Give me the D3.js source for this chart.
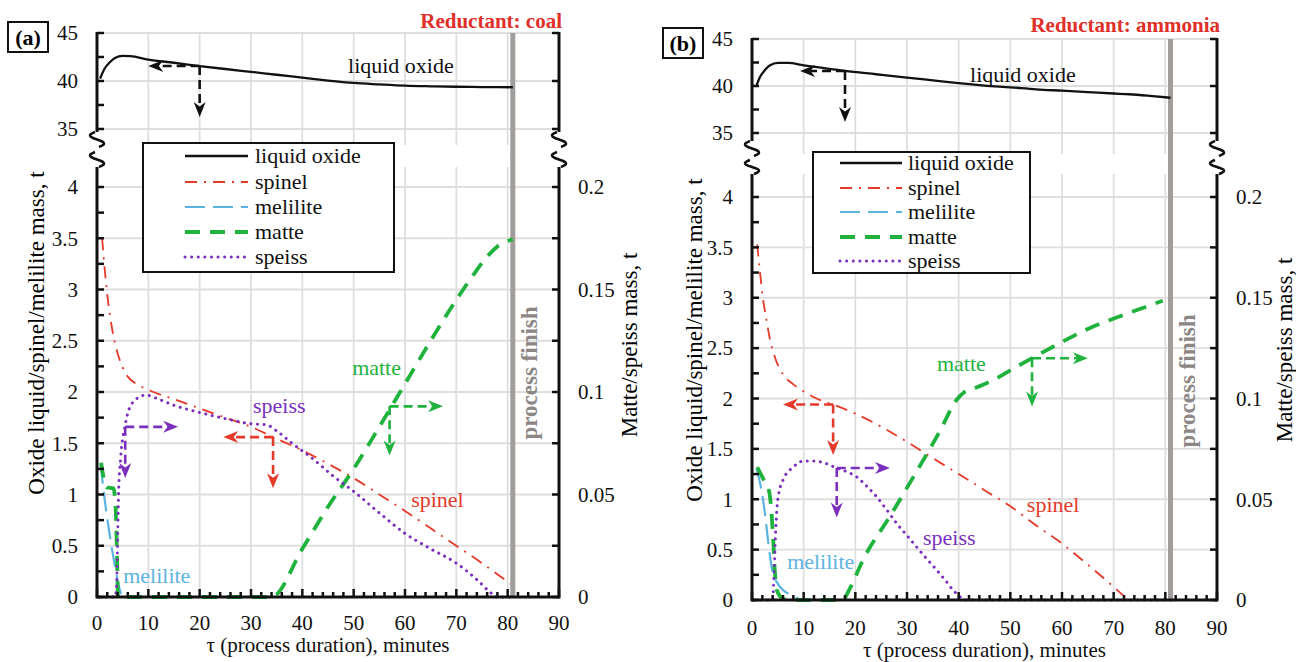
<!DOCTYPE html>
<html>
<head>
<meta charset="utf-8">
<script src="https://cdn.jsdelivr.net/npm/d3@7"></script>
<style>
  body { margin: 0; background: #fff; }
  svg { display: block; }
</style>
</head>
<body>
<svg id="chart" width="1296" height="662"></svg>
<script>
// ---- axis ticks ----
const tauTicks = [0, 10, 20, 30, 40, 50, 60, 70, 80, 90]
const topTicks = [35, 40, 45]
const leftTicks = [0, 0.5, 1, 1.5, 2, 2.5, 3, 3.5, 4]
const rightTicks = [0, 0.05, 0.1, 0.15, 0.2]
const finishTau = 81

const seriesNames = ["liquid oxide", "spinel", "melilite", "matte", "speiss"]

// ---- (a) reductant: coal ----
const oxideTauA = [0.6, 1.5, 2.5, 3.5, 5, 6.5, 10, 15, 20, 25, 30, 35, 40, 45, 50, 55, 60, 65, 70, 75, 81]
const oxideA = [40.25, 41.3, 41.95, 42.4, 42.62, 42.6, 42.22, 41.9, 41.56, 41.25, 40.95, 40.65, 40.35, 40.05, 39.8, 39.65, 39.52, 39.45, 39.4, 39.37, 39.35]
const spinelTauA = [1, 1.5, 2, 3, 4, 5, 6, 8, 10, 15, 20, 25, 30, 34.3, 40, 45, 50, 55, 60, 65, 70, 75, 80.5]
const spinelA = [3.5, 3.2, 2.95, 2.6, 2.38, 2.24, 2.15, 2.07, 2.02, 1.93, 1.84, 1.75, 1.66, 1.56, 1.43, 1.3, 1.16, 1.0, 0.84, 0.67, 0.5, 0.33, 0.13]
const meliliteTauA = [0.7, 1.5, 2.5, 3.5, 4.3, 5, 81]
const meliliteA = [1.3, 0.95, 0.6, 0.3, 0.1, 0, 0]
const matteTauA = [0.8, 1.9, 3.2, 3.6, 3.9, 4.1, 34, 40, 45, 50, 55, 60, 65, 70, 73, 76, 78, 81]
const matteA = [0.0655, 0.0535, 0.053, 0.045, 0.02, 0, 0, 0.0235, 0.044, 0.0625, 0.083, 0.104, 0.125, 0.145, 0.156, 0.166, 0.171, 0.1745]
const speissTauA = [0.5, 3.5, 3.8, 4.0, 4.2, 4.6, 5.5, 7, 9.5, 12, 15, 20, 25, 30, 33, 35, 38, 42, 46, 50, 55, 60, 65, 70, 74, 77, 78, 81]
const speissA = [0, 0, 0.005, 0.025, 0.05, 0.0675, 0.084, 0.095, 0.0985, 0.0965, 0.0935, 0.09, 0.087, 0.0845, 0.084, 0.081, 0.075, 0.0675, 0.059, 0.0515, 0.041, 0.031, 0.0235, 0.0165, 0.0085, 0.0015, 0, 0]

// ---- (b) reductant: ammonia ----
const oxideTauB = [0.9, 1.5, 2.5, 3.5, 5, 7, 10, 14, 18, 24, 30, 35, 40, 45, 50, 55, 60, 65, 70, 73, 77, 81]
const oxideB = [40.1, 40.9, 41.7, 42.2, 42.45, 42.45, 42.2, 41.9, 41.6, 41.25, 40.9, 40.6, 40.3, 40.05, 39.86, 39.65, 39.5, 39.35, 39.2, 39.12, 38.95, 38.75]
const spinelTauB = [1, 1.5, 2.1, 2.8, 3.5, 4.5, 6, 8, 10, 12.5, 15.7, 20, 25, 30, 34, 40, 45, 50, 55, 60, 65, 70, 72.8]
const spinelB = [3.53, 3.28, 3.0, 2.78, 2.58, 2.4, 2.24, 2.14, 2.07, 2.0, 1.94, 1.85, 1.72, 1.57, 1.44, 1.25, 1.09, 0.93, 0.74, 0.56, 0.35, 0.13, 0]
const meliliteTauB = [0.9, 1.8, 2.5, 3.2, 3.9, 5, 6, 7.5, 8.7, 10, 81]
const meliliteB = [1.3, 1.1, 0.86, 0.55, 0.3, 0.16, 0.1, 0.05, 0.02, 0, 0]
const matteTauB = [1, 2.2, 3.3, 3.8, 4.1, 4.4, 4.8, 5.8, 7, 17.5, 19, 21.5, 26.7, 31.9, 36.4, 39.5, 41, 43, 46.6, 50, 54.2, 59.6, 65, 72.5, 79.5]
const matteB = [0.066, 0.06, 0.054, 0.0425, 0.03, 0.015, 0.005, 0.001, 0, 0, 0.006, 0.02, 0.0415, 0.064, 0.084, 0.099, 0.103, 0.105, 0.109, 0.114, 0.12, 0.1275, 0.1345, 0.142, 0.1485]
const speissTauB = [0.5, 4, 4.3, 4.6, 5, 6, 8, 10, 12, 14, 16.4, 18.5, 20.3, 22, 24.2, 26, 28, 30, 31.8, 33.8, 35.7, 37.5, 38.9, 40.6, 41.5, 81]
const speissB = [0, 0, 0.015, 0.035, 0.05, 0.0595, 0.066, 0.069, 0.069, 0.068, 0.0655, 0.0635, 0.061, 0.057, 0.051, 0.045, 0.038, 0.032, 0.0265, 0.0205, 0.015, 0.0095, 0.005, 0.001, 0, 0]

const colors = {
  oxide: "#111111", spinel: "#e5392a", melilite: "#5db3e0",
  matte: "#1fb23d", speiss: "#7a2fbd", finish: "#a19d9b", title: "#e0302a"
}
const styles = [
  { key: "oxide", axis: "top", color: colors.oxide, width: 2.3, dash: null },
  { key: "spinel", axis: "left", color: colors.spinel, width: 1.8, dash: "12,7,2,7" },
  { key: "melilite", axis: "left", color: colors.melilite, width: 2.2, dash: "20,8" },
  { key: "matte", axis: "right", color: colors.matte, width: 3.8, dash: "15,10" },
  { key: "speiss", axis: "right", color: colors.speiss, width: 3, dash: "0.1,6.5", cap: "round" }
]

const panels = [
  {
    x0: 97, x1: 559, y45: 33, y35: 129, y0: 597, y4: 187,
    brk1: [132, 147], brk2: [152, 167],
    tag: "(a)", tagBox: [8, 22, 40, 30], title: "Reductant: coal", titleY: 28,
    legend: { x: 143, y: 143, w: 251, h: 129, lx: [185, 248], tx: 255, rows: [156, 182, 207, 232, 257] },
    xTickY: 630, xTitleY: 652, leftTitleX: 36, leftTitleY: 333, rightTitleX: 629, rightTitleY: 345,
    finishTextY: 373,
    data: {
      oxide: [oxideTauA, oxideA], spinel: [spinelTauA, spinelA], melilite: [meliliteTauA, meliliteA],
      matte: [matteTauA, matteA], speiss: [speissTauA, speissA]
    },
    labels: [
      { text: "liquid oxide", axis: "top", t: 48.9, v: 40.83, color: colors.oxide },
      { text: "matte", axis: "left", t: 49.7, v: 2.17, color: colors.matte },
      { text: "speiss", axis: "left", t: 30.4, v: 1.8, color: colors.speiss },
      { text: "spinel", axis: "left", t: 61.2, v: 0.88, color: colors.spinel },
      { text: "melilite", axis: "left", t: 5.1, v: 0.14, color: colors.melilite }
    ],
    arrows: [
      { axis: "top", t: 20, v: 41.56, tTo: 10, vTo: 36.25, color: colors.oxide },
      { axis: "right", t: 5.5, v: 0.083, tTo: 15.8, vTo: 0.058, color: colors.speiss },
      { axis: "left", t: 34.3, v: 1.56, tTo: 24.6, vTo: 1.06, color: colors.spinel },
      { axis: "right", t: 57, v: 0.093, tTo: 67.4, vTo: 0.069, color: colors.matte }
    ]
  },
  {
    x0: 752, x1: 1217, y45: 39, y35: 133, y0: 600, y4: 197,
    brk1: [141, 156], brk2: [160, 174],
    tag: "(b)", tagBox: [663, 28, 40, 30], title: "Reductant: ammonia", titleY: 32,
    legend: { x: 813, y: 152, w: 217, h: 121, lx: [840, 902], tx: 908, rows: [163, 188, 212, 237, 261] },
    xTickY: 635, xTitleY: 657, leftTitleX: 694, leftTitleY: 340, rightTitleX: 1284, rightTitleY: 350,
    finishTextY: 381,
    data: {
      oxide: [oxideTauB, oxideB], spinel: [spinelTauB, spinelB], melilite: [meliliteTauB, meliliteB],
      matte: [matteTauB, matteB], speiss: [speissTauB, speissB]
    },
    labels: [
      { text: "liquid oxide", axis: "top", t: 42.2, v: 40.43, color: colors.oxide },
      { text: "matte", axis: "left", t: 35.8, v: 2.27, color: colors.matte },
      { text: "spinel", axis: "left", t: 53.2, v: 0.87, color: colors.spinel },
      { text: "speiss", axis: "left", t: 33.1, v: 0.55, color: colors.speiss },
      { text: "melilite", axis: "left", t: 6.8, v: 0.31, color: colors.melilite }
    ],
    arrows: [
      { axis: "top", t: 18, v: 41.6, tTo: 9.3, vTo: 36.17, color: colors.oxide },
      { axis: "left", t: 15.7, v: 1.94, tTo: 6, vTo: 1.44, color: colors.spinel },
      { axis: "right", t: 16.4, v: 0.0655, tTo: 26.7, vTo: 0.041, color: colors.speiss },
      { axis: "right", t: 54.2, v: 0.12, tTo: 65, vTo: 0.096, color: colors.matte }
    ]
  }
]

const svg = d3.select("#chart")

const squiggle = (g, cx, y1, y2) => {
  let pts = d3.range(0, 1.0001, 0.1).map(t => [cx - 6 * Math.sin(2 * Math.PI * t) + (t - 0.5) * 4, y1 + t * (y2 - y1)])
  g.append("path")
    .attr("d", d3.line().curve(d3.curveCatmullRom)(pts))
    .attr("fill", "none").attr("stroke", "#111").attr("stroke-width", 2.6)
}

const arrow = (g, x1, y1, x2, y2, color) => {
  let L = 15, W = 6
  let a = Math.atan2(y2 - y1, x2 - x1)
  let bx = x2 - L * Math.cos(a), by = y2 - L * Math.sin(a)
  let nx = x2 - L * 0.7 * Math.cos(a), ny = y2 - L * 0.7 * Math.sin(a)
  g.append("line")
    .attr("x1", x1).attr("y1", y1).attr("x2", nx).attr("y2", ny)
    .attr("stroke", color).attr("stroke-width", 2.6).attr("stroke-dasharray", "9,5")
  g.append("path")
    .attr("d", `M${x2},${y2}L${bx + W * Math.sin(a)},${by - W * Math.cos(a)}L${nx},${ny}L${bx - W * Math.sin(a)},${by + W * Math.cos(a)}Z`)
    .attr("fill", color)
}

const drawPanel = p => {
  let g = svg.append("g")
  let x = d3.scaleLinear().domain([0, 90]).range([p.x0, p.x1])
  let yT = d3.scaleLinear().domain([35, 45]).range([p.y35, p.y45])
  let yL = d3.scaleLinear().domain([0, 4]).range([p.y0, p.y4])
  let yR = d3.scaleLinear().domain([0, 0.2]).range([p.y0, p.y4])
  let yOf = { top: yT, left: yL, right: yR }

  // grid
  let grid = g.append("g").attr("stroke", "#dedede").attr("stroke-width", 1.8)
  tauTicks.slice(1, -1).forEach(t => {
    grid.append("line").attr("x1", x(t)).attr("x2", x(t)).attr("y1", yT(45)).attr("y2", p.brk1[1] - 2)
    grid.append("line").attr("x1", x(t)).attr("x2", x(t)).attr("y1", p.brk2[1]).attr("y2", yL(0))
  })
  topTicks.forEach(v => {
    grid.append("line").attr("x1", p.x0).attr("x2", p.x1).attr("y1", yT(v)).attr("y2", yT(v))
  })
  leftTicks.slice(1).forEach(v => {
    grid.append("line").attr("x1", p.x0).attr("x2", p.x1).attr("y1", yL(v)).attr("y2", yL(v))
  })

  // process finish line
  g.append("line")
    .attr("x1", x(finishTau)).attr("x2", x(finishTau))
    .attr("y1", yT(45)).attr("y2", yL(0))
    .attr("stroke", colors.finish).attr("stroke-width", 5)
  g.append("text")
    .attr("transform", `translate(${x(finishTau) + 24},${p.finishTextY}) rotate(-90)`)
    .attr("text-anchor", "middle")
    .attr("font-size", 23).attr("font-weight", "bold")
    .attr("fill", "#8c8785")
    .text("process finish")

  // series
  styles.forEach(s => {
    let [ts, vs] = p.data[s.key]
    let ys = yOf[s.axis]
    let line = d3.line().x(d => x(d[0])).y(d => ys(d[1])).curve(d3.curveMonotoneX)
    g.append("path")
      .attr("d", line(d3.zip(ts, vs)))
      .attr("fill", "none")
      .attr("stroke", s.color)
      .attr("stroke-width", s.width)
      .attr("stroke-dasharray", s.dash)
      .attr("stroke-linecap", s.cap || "butt")
  })

  // arrows
  p.arrows.forEach(a => {
    let ys = yOf[a.axis]
    arrow(g, x(a.t), ys(a.v), x(a.tTo), ys(a.v), a.color)
    arrow(g, x(a.t), ys(a.v), x(a.t), ys(a.vTo), a.color)
  })

  // inline labels
  p.labels.forEach(l => {
    g.append("text")
      .attr("x", x(l.t)).attr("y", yOf[l.axis](l.v))
      .attr("fill", l.color)
      .attr("font-size", 22)
      .text(l.text)
  })

  // legend
  let lg = p.legend
  g.append("rect")
    .attr("x", lg.x).attr("y", lg.y).attr("width", lg.w).attr("height", lg.h)
    .attr("fill", "#fff").attr("stroke", "#111").attr("stroke-width", 2)
  styles.forEach((s, i) => {
    g.append("line")
      .attr("x1", lg.lx[0]).attr("x2", lg.lx[1]).attr("y1", lg.rows[i]).attr("y2", lg.rows[i])
      .attr("stroke", s.color).attr("stroke-width", s.width)
      .attr("stroke-dasharray", s.dash).attr("stroke-linecap", s.cap || "butt")
    g.append("text")
      .attr("x", lg.tx).attr("y", lg.rows[i]).attr("dy", "0.33em")
      .attr("font-size", 22).attr("fill", "#111")
      .text(seriesNames[i])
  })

  // axes
  let ax = g.append("g").attr("stroke", "#111").attr("stroke-width", 3).attr("fill", "none")
  ;[p.x0, p.x1].forEach(xx => {
    ax.append("line").attr("x1", xx).attr("x2", xx).attr("y1", yT(45) - 1).attr("y2", p.brk1[0])
    squiggle(g, xx, p.brk1[0], p.brk1[1])
    squiggle(g, xx, p.brk2[0], p.brk2[1])
    ax.append("line").attr("x1", xx).attr("x2", xx).attr("y1", p.brk2[1]).attr("y2", yL(0) + 1.5)
  })
  ax.append("line").attr("x1", p.x0).attr("x2", p.x1).attr("y1", yL(0)).attr("y2", yL(0))

  let tk = g.append("g").attr("stroke", "#111").attr("stroke-width", 2.5)
  d3.range(35, 45.01, 2.5).forEach(v => {
    tk.append("line").attr("x1", p.x0).attr("x2", p.x0 + 7).attr("y1", yT(v)).attr("y2", yT(v))
  })
  topTicks.forEach(v => {
    tk.append("line").attr("x1", p.x1 - 7).attr("x2", p.x1).attr("y1", yT(v)).attr("y2", yT(v))
  })
  d3.range(0, 4.01, 0.25).forEach(v => {
    tk.append("line").attr("x1", p.x0).attr("x2", p.x0 + 7).attr("y1", yL(v)).attr("y2", yL(v))
  })
  d3.range(0, 0.2001, 0.025).forEach(v => {
    tk.append("line").attr("x1", p.x1 - 7).attr("x2", p.x1).attr("y1", yR(v)).attr("y2", yR(v))
  })
  d3.range(0, 90.01, 2).forEach(t => {
    let major = t % 10 === 0
    tk.append("line").attr("x1", x(t)).attr("x2", x(t))
      .attr("y1", yL(0)).attr("y2", yL(0) - (major ? 8 : 5))
  })

  // tick labels
  let lab = g.append("g").attr("fill", "#111")
  topTicks.forEach(v => {
    lab.append("text").attr("x", p.x0 - 19).attr("y", yT(v)).attr("dy", "0.35em")
      .attr("text-anchor", "end").text(v)
  })
  leftTicks.forEach(v => {
    lab.append("text").attr("x", p.x0 - 19).attr("y", yL(v)).attr("dy", "0.35em")
      .attr("text-anchor", "end").text(v)
  })
  rightTicks.forEach(v => {
    lab.append("text").attr("x", p.x1 + 19).attr("y", yR(v)).attr("dy", "0.35em")
      .attr("text-anchor", "start").text(v)
  })
  tauTicks.forEach(t => {
    lab.append("text").attr("x", x(t)).attr("y", p.xTickY)
      .attr("text-anchor", "middle").text(t)
  })
  lab.append("text").attr("x", (p.x0 + p.x1) / 2).attr("y", p.xTitleY)
    .attr("text-anchor", "middle").text("τ (process duration), minutes")
  lab.selectAll("text").attr("font-size", 21)

  // y axis titles
  g.append("text")
    .attr("transform", `translate(${p.leftTitleX},${p.leftTitleY}) rotate(-90)`)
    .attr("text-anchor", "middle").attr("dy", "0.35em").attr("font-size", 23)
    .text("Oxide liquid/spinel/melilite mass, t")
  g.append("text")
    .attr("transform", `translate(${p.rightTitleX},${p.rightTitleY}) rotate(-90)`)
    .attr("text-anchor", "middle").attr("dy", "0.35em").attr("font-size", 23)
    .text("Matte/speiss mass, t")

  // panel tag and title
  let [bx, by, bw, bh] = p.tagBox
  g.append("rect").attr("x", bx).attr("y", by).attr("width", bw).attr("height", bh)
    .attr("fill", "#fff").attr("stroke", "#111").attr("stroke-width", 2)
  g.append("text").attr("x", bx + bw / 2).attr("y", by + bh / 2).attr("dy", "0.35em")
    .attr("text-anchor", "middle").attr("font-size", 22).attr("font-weight", "bold")
    .text(p.tag)
  g.append("text").attr("x", p.x1 + 3).attr("y", p.titleY)
    .attr("text-anchor", "end").attr("font-size", 21).attr("font-weight", "bold")
    .attr("fill", colors.title).text(p.title)
}

panels.forEach(drawPanel)

// serif everywhere, set on each text like the paper figure
svg.selectAll("text").attr("font-family", "Liberation Serif")
</script>
</body>
</html>
